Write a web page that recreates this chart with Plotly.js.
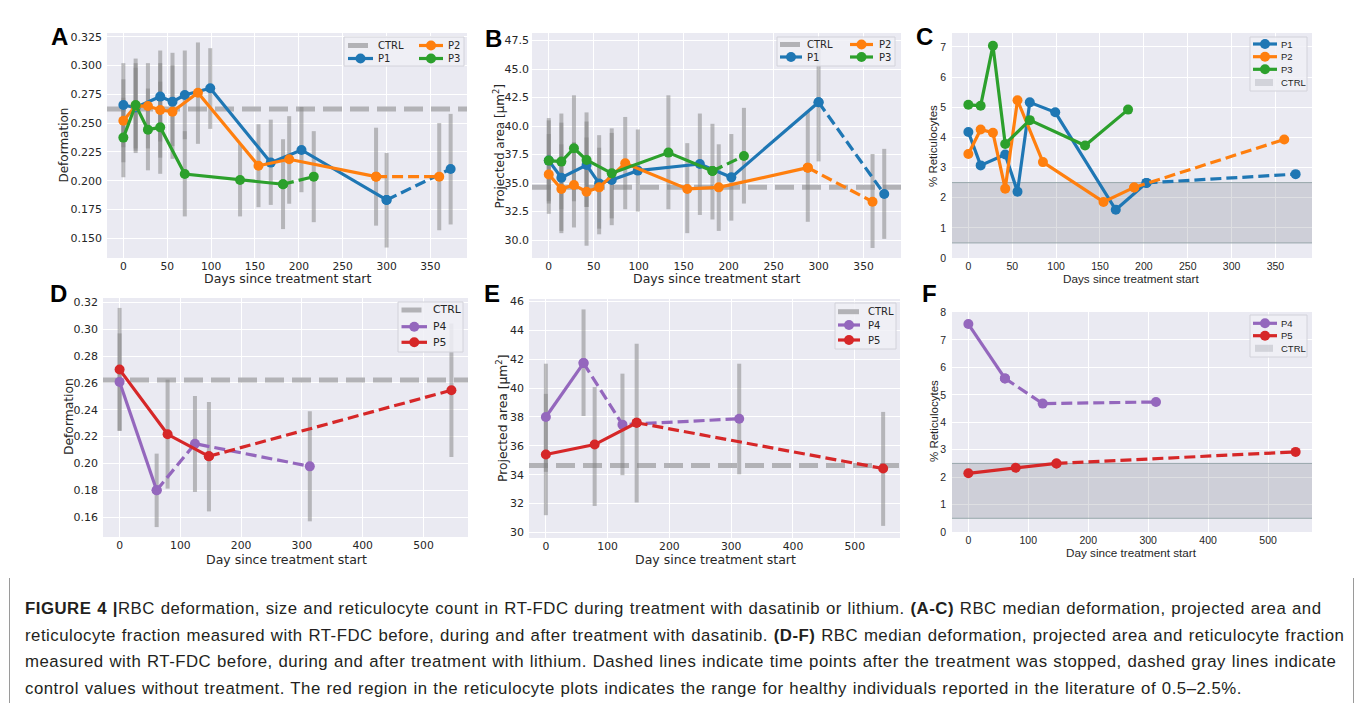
<!DOCTYPE html>
<html><head><meta charset="utf-8">
<script src="https://cdn.plot.ly/plotly-3.0.1.min.js"></script>
<style>
html,body{margin:0;padding:0;background:#fff;width:1355px;height:703px;overflow:hidden;}
#chart{position:absolute;left:0;top:0;width:1355px;height:703px;}
#caption{position:absolute;left:25px;top:596px;font-family:"Liberation Sans",Arial,sans-serif;font-size:16.8px;letter-spacing:0.5px;word-spacing:0.6px;line-height:26.5px;color:#231f20;white-space:nowrap;}
.vline{position:absolute;top:578px;width:1px;height:125px;background:#9a9a9a;}
</style></head>
<body>
<div id="chart"></div>
<div class="vline" style="left:9px"></div>
<div class="vline" style="left:1353px"></div>
<div id="caption">
<b>FIGURE 4 |</b>RBC deformation, size and reticulocyte count in RT-FDC during treatment with dasatinib or lithium. <b>(A-C)</b> RBC median deformation, projected area and<br>
reticulocyte fraction measured with RT-FDC before, during and after treatment with dasatinib. <b>(D-F)</b> RBC median deformation, projected area and reticulocyte fraction<br>
measured with RT-FDC before, during and after treatment with lithium. Dashed lines indicate time points after the treatment was stopped, dashed gray lines indicate<br>
control values without treatment. The red region in the reticulocyte plots indicates the range for healthy individuals reported in the literature of 0.5–2.5%.
</div>
<script>
// ---------------- DATA ----------------
// Dasatinib patients (panels A-C)
const P1_days = [0, 14, 42, 56, 70, 99, 168, 203, 300, 373];
const P1_def  = [0.2657, 0.2635, 0.2730, 0.2686, 0.2744, 0.2802, 0.2157, 0.2267, 0.1833, 0.2102];
const P1_def_lo = [0.229, 0.226, 0.234, 0.230, 0.236, 0.245, 0.179, 0.190, 0.142, 0.162];
const P1_def_hi = [0.302, 0.302, 0.313, 0.311, 0.313, 0.315, 0.253, 0.264, 0.224, 0.258];
const P1_area = [36.97, 35.47, 36.58, 34.97, 35.27, 36.09, 36.67, 35.50, 42.09, 34.04];
const P1_area_lo = [33.2, 30.6, 32.9, 31.0, 31.9, 32.5, 32.2, 31.7, 36.9, 30.1];
const P1_area_hi = [40.7, 40.3, 40.4, 38.1, 39.4, 39.7, 41.1, 39.3, 47.0, 38.0];
const P1_stop = 8;            // last on-treatment index (deformation / area)
const P1_ret_days = [0, 14, 42, 56, 70, 99, 168, 203, 373];
const P1_ret = [4.18, 3.07, 3.43, 2.20, 5.16, 4.83, 1.60, 2.49, 2.78];
const P1_ret_stop = 7;

const P2_days = [0, 14, 28, 42, 56, 85, 154, 189, 288, 360];
const P2_def  = [0.2521, 0.2650, 0.2648, 0.2614, 0.2599, 0.2764, 0.2130, 0.2186, 0.2035, 0.2035];
const P2_def_lo = [0.216, 0.228, 0.228, 0.220, 0.219, 0.232, 0.177, 0.180, 0.161, 0.157];
const P2_def_hi = [0.288, 0.306, 0.302, 0.302, 0.300, 0.320, 0.249, 0.256, 0.246, 0.250];
const P2_area = [35.76, 34.48, 34.83, 34.24, 34.62, 36.73, 34.48, 34.62, 36.35, 33.36];
const P2_area_lo = [32.3, 30.8, 31.1, 29.5, 30.5, 32.7, 30.6, 30.8, 31.6, 29.3];
const P2_area_hi = [39.3, 38.4, 38.6, 39.0, 39.2, 40.8, 38.5, 38.4, 41.3, 37.55];
const P2_stop = 8;
const P2_ret_days = [0, 14, 28, 42, 56, 85, 154, 189, 360];
const P2_ret = [3.45, 4.26, 4.15, 2.30, 5.23, 3.18, 1.86, 2.34, 3.93];
const P2_ret_stop = 7;

const P3_days = [0, 14, 28, 42, 70, 133, 182, 217];
const P3_def  = [0.2374, 0.2657, 0.2443, 0.2463, 0.2058, 0.2006, 0.1969, 0.2035];
const P3_def_lo = [0.203, 0.224, 0.209, 0.206, 0.169, 0.169, 0.158, 0.164];
const P3_def_hi = [0.272, 0.298, 0.280, 0.286, 0.243, 0.232, 0.236, 0.243];
const P3_area = [36.97, 36.88, 38.05, 37.02, 35.85, 37.67, 36.06, 37.37];
const P3_area_lo = [33.4, 32.7, 33.4, 32.9, 31.3, 32.7, 31.8, 33.2];
const P3_area_hi = [40.5, 41.1, 42.7, 41.2, 39.8, 42.7, 40.2, 41.6];
const P3_stop = 6;
const P3_ret_days = [0, 14, 28, 42, 70, 133, 182];
const P3_ret = [5.08, 5.05, 7.04, 3.78, 4.57, 3.73, 4.92];
const P3_ret_stop = 6;

// Lithium patients (panels D-F)
const P4_days = [0, 61, 124, 313];
const P4_def  = [0.2608, 0.1800, 0.2147, 0.1978];
const P4_def_lo = [0.2245, 0.1525, 0.1787, 0.1568];
const P4_def_hi = [0.2970, 0.2073, 0.2503, 0.2389];
const P4_area = [38.00, 41.73, 37.47, 37.88];
const P4_area_lo = [34.2, 38.07, 33.97, 34.03];
const P4_area_hi = [41.69, 45.45, 41.0, 41.69];
const P4_ret = [7.58, 5.60, 4.68, 4.74];
const P4_stop = 1;

const P5_days = [0, 79, 147, 546];
const P5_def  = [0.2700, 0.2217, 0.2053, 0.2546];
const P5_def_lo = [0.2242, 0.1812, 0.1642, 0.2048];
const P5_def_hi = [0.3160, 0.2625, 0.2458, 0.3043];
const P5_area = [35.40, 36.09, 37.60, 34.43];
const P5_area_lo = [31.2, 31.84, 32.08, 30.46];
const P5_area_hi = [39.6, 40.07, 43.07, 38.35];
const P5_ret = [2.14, 2.34, 2.50, 2.92];
const P5_stop = 2;

// Controls
const CTRL_def = 0.2622;
const CTRL_area = 34.64;
const CTRL_ret_range = [0.5, 2.5];

// Labels
const panelLetters = ['A','B','C','D','E','F'];
const xTitleDays = 'Days since treatment start';
const xTitleDay = 'Day since treatment start';
const yTitleDef = 'Deformation';
const yTitleArea = 'Projected area [µm<sup>2</sup>]';
const yTitleRet = '% Reticulocytes';

// ---------------- STYLE / LAYOUT ----------------
const W = 1355, H = 703;
const COL = {P1:'#1f77b4', P2:'#ff7f0e', P3:'#2ca02c', P4:'#9467bd', P5:'#d62728'};
const BG = '#eaeaf2';
const ERRC = 'rgba(128,128,128,0.5)';
const CTRLC = 'rgb(178,178,182)';
const DV = 'DejaVu Sans';
const LS = 'Liberation Sans, Arial, sans-serif';
const TXT = '#262626';
const MS = 10, LW = 3.2, DASH = '11px,5px';

const xr1 = [-18.65, 391.65], xr2 = [-27.3, 573.3];
const axSpec = {
  1:{xr:xr1, dx:50, yr:[0.1329, 0.3282], dy:0.025, fmt:'.3f', f:DV, fs:11, xfs:10.7, ys:4},
  2:{xr:xr1, dx:50, yr:[28.42, 48.17], dy:2.5, fmt:'.1f', f:DV, fs:11, xfs:10.7, ys:2},
  3:{xr:xr1, dx:50, yr:[0, 7.46], dy:1, fmt:'d', f:LS, fs:10.5, xfs:10.5, ys:5},
  4:{xr:xr2, dx:100, yr:[0.1451, 0.3234], dy:0.02, fmt:'.2f', f:DV, fs:11, xfs:10.8, ys:4},
  5:{xr:xr2, dx:100, yr:[29.62, 46.17], dy:2, fmt:'d', f:DV, fs:11, xfs:10.8, ys:4},
  6:{xr:xr2, dx:100, yr:[0, 8.02], dy:1, fmt:'d', f:LS, fs:10.5, xfs:10.5, ys:5}
};

function px(x){ return x / W; }
function py(y){ return 1 - y / H; }
function sfx(n){ return n === 1 ? '' : String(n); }

const traces = [];
const shapes = [];
const annotations = [];

function errTrace(days, lo, hi, ax){
  const x = [], y = [];
  days.forEach((d, i) => { x.push(d, d, null); y.push(lo[i], hi[i], null); });
  traces.push({type:'scatter', mode:'lines', x, y, xaxis:'x'+sfx(ax), yaxis:'y'+sfx(ax),
    line:{color:ERRC, width:4}, hoverinfo:'skip', showlegend:false});
}
function series(days, vals, stop, color, ax){
  traces.push({type:'scatter', mode:'lines+markers', x:days.slice(0, stop+1), y:vals.slice(0, stop+1),
    xaxis:'x'+sfx(ax), yaxis:'y'+sfx(ax), line:{color, width:LW}, marker:{color, size:MS}, showlegend:false});
  if (stop < days.length - 1) {
    traces.push({type:'scatter', mode:'lines+markers', x:days.slice(stop), y:vals.slice(stop),
      xaxis:'x'+sfx(ax), yaxis:'y'+sfx(ax), line:{color, width:LW, dash:DASH}, marker:{color, size:MS}, showlegend:false});
  }
}
function ctrlLine(val, ax){
  const r = axSpec[ax].xr;
  shapes.push({type:'line', xref:'x'+sfx(ax), x0:r[0], x1:r[1], yref:'y'+sfx(ax), y0:val, y1:val,
    line:{color:CTRLC, width:5, dash:'19px,8px'}, layer:'between'});
}
function ctrlBand(range, ax){
  const r = axSpec[ax].xr;
  shapes.push({type:'rect', xref:'x'+sfx(ax), x0:r[0], x1:r[1], yref:'y'+sfx(ax), y0:range[0], y1:range[1],
    fillcolor:'rgba(125,127,140,0.25)', line:{width:0}, layer:'between'});
  range.forEach(v => shapes.push({type:'line', xref:'x'+sfx(ax), x0:r[0], x1:r[1], yref:'y'+sfx(ax), y0:v, y1:v,
    line:{color:'#98a7ab', width:1}, layer:'between'}));
}

// Panel A (1)
errTrace(P1_days, P1_def_lo, P1_def_hi, 1);
errTrace(P2_days, P2_def_lo, P2_def_hi, 1);
errTrace(P3_days, P3_def_lo, P3_def_hi, 1);
ctrlLine(CTRL_def, 1);
series(P1_days, P1_def, P1_stop, COL.P1, 1);
series(P2_days, P2_def, P2_stop, COL.P2, 1);
series(P3_days, P3_def, P3_stop, COL.P3, 1);
// Panel B (2)
errTrace(P1_days, P1_area_lo, P1_area_hi, 2);
errTrace(P2_days, P2_area_lo, P2_area_hi, 2);
errTrace(P3_days, P3_area_lo, P3_area_hi, 2);
ctrlLine(CTRL_area, 2);
series(P1_days, P1_area, P1_stop, COL.P1, 2);
series(P2_days, P2_area, P2_stop, COL.P2, 2);
series(P3_days, P3_area, P3_stop, COL.P3, 2);
// Panel C (3)
ctrlBand(CTRL_ret_range, 3);
series(P1_ret_days, P1_ret, P1_ret_stop, COL.P1, 3);
series(P2_ret_days, P2_ret, P2_ret_stop, COL.P2, 3);
series(P3_ret_days, P3_ret, P3_ret_stop, COL.P3, 3);
// Panel D (4)
errTrace(P4_days, P4_def_lo, P4_def_hi, 4);
errTrace(P5_days, P5_def_lo, P5_def_hi, 4);
ctrlLine(CTRL_def, 4);
series(P4_days, P4_def, P4_stop, COL.P4, 4);
series(P5_days, P5_def, P5_stop, COL.P5, 4);
// Panel E (5)
errTrace(P4_days, P4_area_lo, P4_area_hi, 5);
errTrace(P5_days, P5_area_lo, P5_area_hi, 5);
ctrlLine(CTRL_area, 5);
series(P4_days, P4_area, P4_stop, COL.P4, 5);
series(P5_days, P5_area, P5_stop, COL.P5, 5);
// Panel F (6)
ctrlBand(CTRL_ret_range, 6);
series(P4_days, P4_ret, P4_stop, COL.P4, 6);
series(P5_days, P5_ret, P5_stop, COL.P5, 6);

// Axes geometry in pixels [left, right, top, bottom]
const boxes = {
  1:[107, 467, 33, 258], 2:[532, 901, 33, 258], 3:[952, 1312, 33, 258],
  4:[103, 468, 298, 537], 5:[529, 900, 299, 538], 6:[952, 1312, 312, 532]
};

const layout = {
  width:W, height:H, margin:{l:0, r:0, t:0, b:0},
  paper_bgcolor:'rgba(0,0,0,0)', plot_bgcolor:BG, showlegend:false,
  shapes, annotations
};
for (let i = 1; i <= 6; i++) {
  const b = boxes[i], s = axSpec[i];
  layout['xaxis'+sfx(i)] = {domain:[px(b[0]), px(b[1])], anchor:'y'+sfx(i), range:s.xr, tick0:0, dtick:s.dx,
    showgrid:true, gridcolor:'#ffffff', gridwidth:1, zeroline:false, showline:false, ticks:'',
    ticklabelstandoff:0, tickfont:{family:s.f, size:s.xfs, color:TXT}};
  layout['yaxis'+sfx(i)] = {domain:[py(b[3]), py(b[2])], anchor:'x'+sfx(i), range:s.yr, tick0:0, dtick:s.dy,
    tickformat:s.fmt, showgrid:true, gridcolor:'#ffffff', gridwidth:1, zeroline:false, showline:false, ticks:'',
    ticklabelstandoff:s.ys, tickfont:{family:s.f, size:s.fs, color:TXT}};
}

function txt(x, y, text, font, size, opts){
  annotations.push(Object.assign({xref:'paper', yref:'paper', x:px(x), y:py(y), text, showarrow:false,
    xanchor:'center', yanchor:'middle', borderpad:0, font:{family:font, size, color:TXT}}, opts || {}));
}
// Panel letters
const letterPos = [[59.5,37],[493,38],[924.5,37],[58.5,293],[491.5,293],[929.5,293]];
panelLetters.forEach((L, i) => txt(letterPos[i][0], letterPos[i][1], '<b>'+L+'</b>', 'Liberation Sans, Arial', 24, {font:{family:'Liberation Sans, Arial', size:24, color:'#000'}}));
// Axis titles
txt(288, 278.5, xTitleDays, DV, 12.5);
txt(716.5, 278.5, xTitleDays, DV, 12.5);
txt(1131.5, 278, xTitleDays, LS, 11.7);
txt(286.5, 559, xTitleDay, DV, 12.5);
txt(715, 559, xTitleDay, DV, 12.5);
txt(1131.5, 552.5, xTitleDay, LS, 11.7);
txt(63.5, 145, yTitleDef, DV, 12, {textangle:-90});
txt(499, 146.5, yTitleArea, DV, 12, {textangle:-90});
txt(933.5, 146.5, yTitleRet, LS, 11.5, {textangle:-90});
txt(68.5, 416.5, yTitleDef, DV, 12.3, {textangle:-90});
txt(502, 418, yTitleArea, DV, 12.3, {textangle:-90});
txt(933.5, 421.5, yTitleRet, LS, 11.5, {textangle:-90});

// Legends (drawn manually)
function legBox(x0, y0, x1, y1){
  shapes.push({type:'rect', xref:'paper', yref:'paper', x0:px(x0), x1:px(x1), y0:py(y1), y1:py(y0),
    fillcolor:'rgba(240,240,246,0.85)', line:{color:'#d2d2da', width:1}, layer:'above'});
}
function legLine(xa, xb, y, color, label, tx, font, fs){
  shapes.push({type:'line', xref:'paper', yref:'paper', x0:px(xa), x1:px(xb), y0:py(y), y1:py(y), line:{color, width:LW}, layer:'above'});
  const xc = (xa + xb) / 2;
  shapes.push({type:'circle', xref:'paper', yref:'paper', xsizemode:'pixel', ysizemode:'pixel', xanchor:px(xc), yanchor:py(y),
    x0:-MS/2, x1:MS/2, y0:-MS/2, y1:MS/2, fillcolor:color, line:{width:0}, layer:'above'});
  txt(tx, y, label, font, fs, {xanchor:'left', font:{family:font, size:fs, color:TXT}});
}
function legCtrlLine(xa, xb, y, tx, font, fs){
  shapes.push({type:'line', xref:'paper', yref:'paper', x0:px(xa), x1:px(xb), y0:py(y), y1:py(y), line:{color:CTRLC, width:5}, layer:'above'});
  txt(tx, y, 'CTRL', font, fs, {xanchor:'left', font:{family:font, size:fs, color:TXT}});
}
function legCtrlPatch(xa, xb, y, tx, font, fs){
  shapes.push({type:'rect', xref:'paper', yref:'paper', x0:px(xa), x1:px(xb), y0:py(y+3.5), y1:py(y-3.5),
    fillcolor:'rgba(125,127,140,0.25)', line:{width:0}, layer:'above'});
  txt(tx, y, 'CTRL', font, fs, {xanchor:'left', font:{family:font, size:fs, color:TXT}});
}
// A
legBox(344, 37, 464, 66);
legCtrlLine(348, 368, 45.5, 377, DV, 10);
legLine(348, 373, 58.5, COL.P1, 'P1', 377, DV, 10);
legLine(419, 443, 45.5, COL.P2, 'P2', 447, DV, 10);
legLine(419, 443, 58.5, COL.P3, 'P3', 447, DV, 10);
// B
legBox(777, 37, 895, 66);
legCtrlLine(780, 800, 44.5, 806, DV, 10);
legLine(780, 802, 57, COL.P1, 'P1', 806, DV, 10);
legLine(850, 873, 44.5, COL.P2, 'P2', 878, DV, 10);
legLine(850, 873, 57, COL.P3, 'P3', 878, DV, 10);
// C
legBox(1250, 37, 1307, 91);
legLine(1253, 1277, 44, COL.P1, 'P1', 1280, LS, 9.5);
legLine(1253, 1277, 56.7, COL.P2, 'P2', 1280, LS, 9.5);
legLine(1253, 1277, 69.3, COL.P3, 'P3', 1280, LS, 9.5);
legCtrlPatch(1255, 1273, 82.5, 1280, LS, 9.5);
// D
legBox(398, 302, 463, 352);
legCtrlLine(401.5, 421.5, 310, 431.5, DV, 10.8);
legLine(401.5, 427, 326.7, COL.P4, 'P4', 431.5, DV, 10.8);
legLine(401.5, 427, 342.3, COL.P5, 'P5', 431.5, DV, 10.8);
// E
legBox(835, 303, 896, 349);
legCtrlLine(838, 859, 311.7, 866.5, DV, 10);
legLine(838, 860, 325, COL.P4, 'P4', 866.5, DV, 10);
legLine(838, 860, 340, COL.P5, 'P5', 866.5, DV, 10);
// F
legBox(1250, 315, 1307, 357);
legLine(1253, 1277, 323.3, COL.P4, 'P4', 1280, LS, 9.5);
legLine(1253, 1277, 335.7, COL.P5, 'P5', 1280, LS, 9.5);
legCtrlPatch(1255, 1273, 348.3, 1280, LS, 9.5);

Plotly.newPlot('chart', traces, layout, {staticPlot:true, displayModeBar:false});
</script>
</body></html>
